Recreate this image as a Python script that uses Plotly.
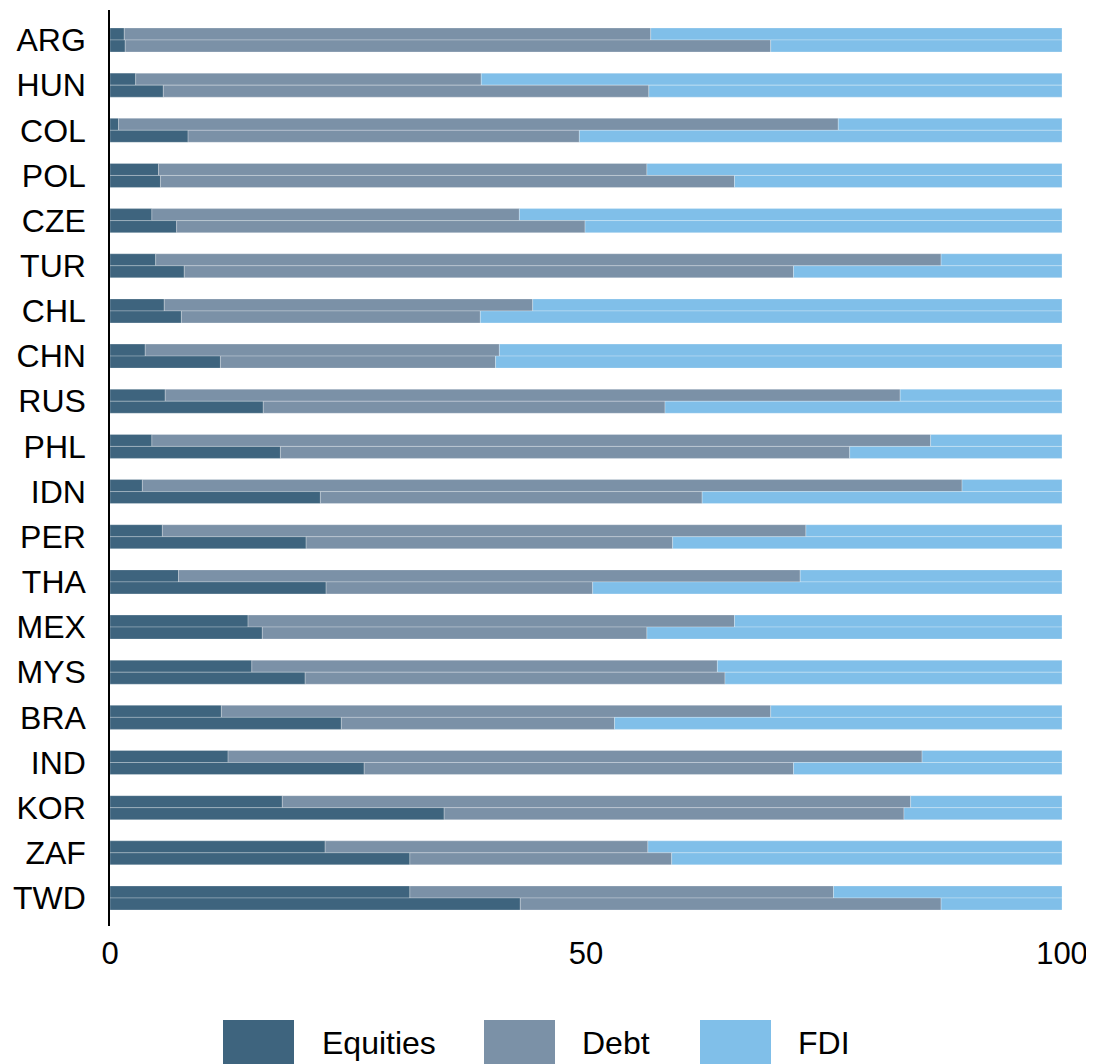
import plotly.graph_objects as go

countries = ["ARG", "HUN", "COL", "POL", "CZE", "TUR", "CHL", "CHN", "RUS", "PHL",
             "IDN", "PER", "THA", "MEX", "MYS", "BRA", "IND", "KOR", "ZAF", "TWD"]

# upper bar of each pair (% shares)
equities_a = [1.5, 2.7, 0.9, 5.1, 4.4, 4.8, 5.7, 3.7, 5.8, 4.4,
              3.4, 5.5, 7.2, 14.5, 14.9, 11.7, 12.4, 18.1, 22.6, 31.5]
debt_a = [55.3, 36.3, 75.6, 51.3, 38.6, 82.5, 38.7, 37.2, 77.2, 81.8,
          86.1, 67.6, 65.3, 51.1, 48.9, 57.7, 72.9, 66.0, 33.9, 44.5]
fdi_a = [43.2, 61.0, 23.5, 43.6, 57.0, 12.7, 55.6, 59.1, 17.0, 13.8,
         10.5, 26.9, 27.5, 34.4, 36.2, 30.6, 14.7, 15.9, 43.5, 24.0]

# lower bar of each pair (% shares)
equities_b = [1.6, 5.6, 8.2, 5.3, 7.0, 7.8, 7.5, 11.6, 16.1, 17.9,
              22.1, 20.6, 22.7, 16.0, 20.5, 24.3, 26.7, 35.1, 31.5, 43.1]
debt_b = [67.8, 51.0, 41.1, 60.3, 42.9, 64.0, 31.4, 28.9, 42.2, 59.8,
          40.1, 38.5, 28.0, 40.4, 44.1, 28.7, 45.1, 48.3, 27.5, 44.2]
fdi_b = [30.6, 43.4, 50.7, 34.4, 50.1, 28.2, 61.1, 59.5, 41.7, 22.3,
         37.8, 40.9, 49.3, 43.6, 35.4, 47.0, 28.2, 16.6, 41.0, 12.7]

series_names = ["Equities", "Debt", "FDI"]
COLORS = {"Equities": "#3E647E", "Debt": "#7B91A7", "FDI": "#80BFE9"}

# page body has an 8px margin, so the figure starts at (8, 8)
OFF = 8
W, H = 1094 - OFF, 1064 - OFF
L, R, T, B = 110 - OFF, 32, 10 - OFF, 138
BAR_W = 0.266

fig = go.Figure()
pos = list(range(len(countries)))

for part, offset in [((equities_a, debt_a, fdi_a), -BAR_W), ((equities_b, debt_b, fdi_b), 0.0)]:
    base = [0.0] * len(countries)
    for name, vals in zip(series_names, part):
        fig.add_trace(go.Bar(
            y=pos, x=vals, base=list(base), orientation="h",
            width=BAR_W, offset=offset,
            marker=dict(color=COLORS[name], line=dict(color="rgba(255,255,255,0.5)", width=0.5)),
            name=name, showlegend=False,
        ))
        base = [b + v for b, v in zip(base, vals)]


# legend drawn by hand: big swatches under the axis (positions in page pixels)
def px_x(px):
    return (px - OFF - L) / (W - L - R)


def px_y(py):
    return (H - B - (py - OFF)) / (H - T - B)


legend_items = [("Equities", 223, 320), ("Debt", 484, 580), ("FDI", 700, 796)]
for name, x0, tx in legend_items:
    fig.add_shape(type="rect", xref="paper", yref="paper",
                  x0=px_x(x0), x1=px_x(x0 + 71), y0=px_y(1075), y1=px_y(1020),
                  fillcolor=COLORS[name], line=dict(width=0), layer="above")
    fig.add_annotation(xref="paper", yref="paper", x=px_x(tx), y=px_y(1043),
                       xanchor="left", yanchor="middle", text=name, showarrow=False,
                       font=dict(size=32, color="black"))

fig.update_layout(
    width=W, height=H,
    barmode="overlay",
    paper_bgcolor="white",
    plot_bgcolor="white",
    font=dict(family="Liberation Sans, Arial, sans-serif", size=32, color="black"),
    margin=dict(l=L, r=R, t=T, b=B, pad=0),
    showlegend=False,
    xaxis=dict(range=[0, 100], tickvals=[0, 50, 100], showgrid=False, zeroline=False,
               showline=False, ticks="", ticklabelstandoff=6, tickfont=dict(size=31),
               fixedrange=True),
    yaxis=dict(range=[19.62, -0.664], tickvals=pos, ticktext=countries, showgrid=False,
               zeroline=False, showline=True, linecolor="black", linewidth=1.5,
               ticks="", ticklabelstandoff=16, fixedrange=True),
)

# hide scrollbars so the right edge of the figure isn't covered
fig.write_html("out.html",
               post_script="document.documentElement.style.overflow='hidden';")
